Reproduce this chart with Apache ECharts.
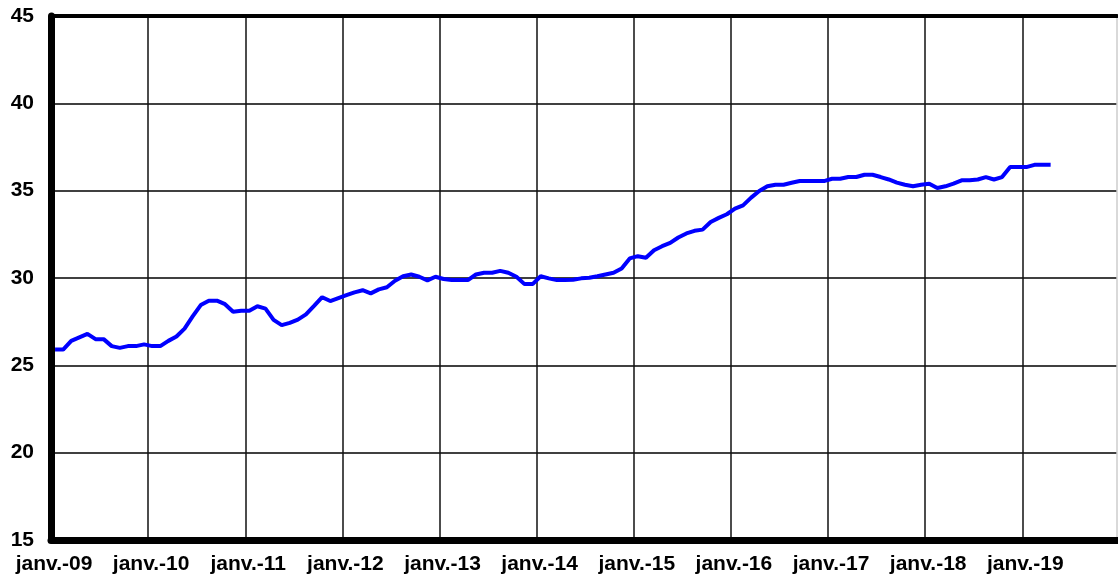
<!DOCTYPE html>
<html>
<head>
<meta charset="utf-8">
<script src="https://cdn.jsdelivr.net/npm/echarts@6/dist/echarts.min.js"></script>
<style>
  html, body { margin: 0; padding: 0; background: #fff; }
  #main { width: 1118px; height: 583px; }
</style>
</head>
<body>
<div id="main"></div>
<script>
// libellés de l'axe des x (un par janvier)
var tickLabels = ['janv.-09', 'janv.-10', 'janv.-11', 'janv.-12', 'janv.-13', 'janv.-14',
    'janv.-15', 'janv.-16', 'janv.-17', 'janv.-18', 'janv.-19', ''];

// valeurs mensuelles, janv.-09 -> avr.-19
var values = [
    25.9, 25.9, 26.4, 26.6, 26.8, 26.5, 26.5, 26.1, 26.0, 26.1, 26.1, 26.2,
    26.1, 26.1, 26.4, 26.65, 27.1, 27.8, 28.45, 28.7, 28.7, 28.5, 28.07, 28.13,
    28.13, 28.38, 28.25, 27.6, 27.3, 27.43, 27.62, 27.92, 28.4, 28.9, 28.68, 28.85,
    29.02, 29.18, 29.3, 29.12, 29.35, 29.47, 29.84, 30.1, 30.2, 30.07, 29.86, 30.07,
    29.94, 29.88, 29.88, 29.88, 30.2, 30.3, 30.3, 30.41, 30.3, 30.07, 29.65, 29.65,
    30.1, 29.98, 29.88, 29.88, 29.9, 29.98, 30.01, 30.1, 30.2, 30.3, 30.55, 31.12,
    31.25, 31.16, 31.59, 31.82, 32.01, 32.32, 32.55, 32.7, 32.77, 33.21, 33.44, 33.65,
    33.97, 34.16, 34.6, 34.98, 35.25, 35.34, 35.34, 35.45, 35.55, 35.55, 35.55, 35.55,
    35.68, 35.68, 35.78, 35.78, 35.91, 35.91, 35.78, 35.64, 35.46, 35.34, 35.25, 35.34,
    35.4, 35.15, 35.25, 35.4, 35.59, 35.59, 35.64, 35.78, 35.64, 35.78, 36.35, 36.35,
    36.35, 36.48, 36.48, 36.48
];

var font = "'Liberation Sans', Arial, sans-serif";

// point au milieu de chaque mois (axe en mois depuis janv.-09)
var points = values.map(function (v, i) { return [i + 0.5, v]; });

var splitColors = [];
for (var k = 0; k < 11; k++) splitColors.push('#111');
splitColors.push('#cccccc');

var myChart = echarts.init(document.getElementById('main'));
var option = {
    animation: false,
    backgroundColor: '#fff',
    grid: { left: 51, right: 1, top: 16, bottom: 43, containLabel: false },
    xAxis: [{
        type: 'value',
        min: 0,
        max: 131.7,
        interval: 12,
        axisLine: { show: true, onZero: false, lineStyle: { color: '#000', width: 7 } },
        axisTick: { show: false },
        axisLabel: {
            margin: 14,
            padding: [0, 0, 0, 6],
            color: '#000',
            fontFamily: font,
            fontWeight: 'bold',
            fontSize: 21,
            showMaxLabel: false,
            formatter: function (val) { return tickLabels[Math.round(val / 12)] || ''; }
        },
        splitLine: { show: true, lineStyle: { color: splitColors, width: 1.5 } }
    }, {
        type: 'value',
        position: 'top',
        min: 0,
        max: 131.7,
        axisLine: { show: true, onZero: false, lineStyle: { color: '#000', width: 4 } },
        axisTick: { show: false },
        axisLabel: { show: false },
        splitLine: { show: false }
    }],
    yAxis: [{
        type: 'value',
        min: 15,
        max: 45,
        interval: 5,
        axisLine: { show: true, onZero: false, lineStyle: { color: '#000', width: 7 } },
        axisTick: { show: false },
        axisLabel: {
            margin: 17,
            color: '#000',
            fontFamily: font,
            fontWeight: 'bold',
            fontSize: 21
        },
        splitLine: { show: true, lineStyle: { color: '#000', width: 1.5 } }
    }],
    series: [{
        type: 'line',
        data: points,
        showSymbol: false,
        smooth: false,
        lineStyle: { color: '#0000ff', width: 4 },
        z: 5
    }]
};
myChart.setOption(option);
</script>
</body>
</html>
